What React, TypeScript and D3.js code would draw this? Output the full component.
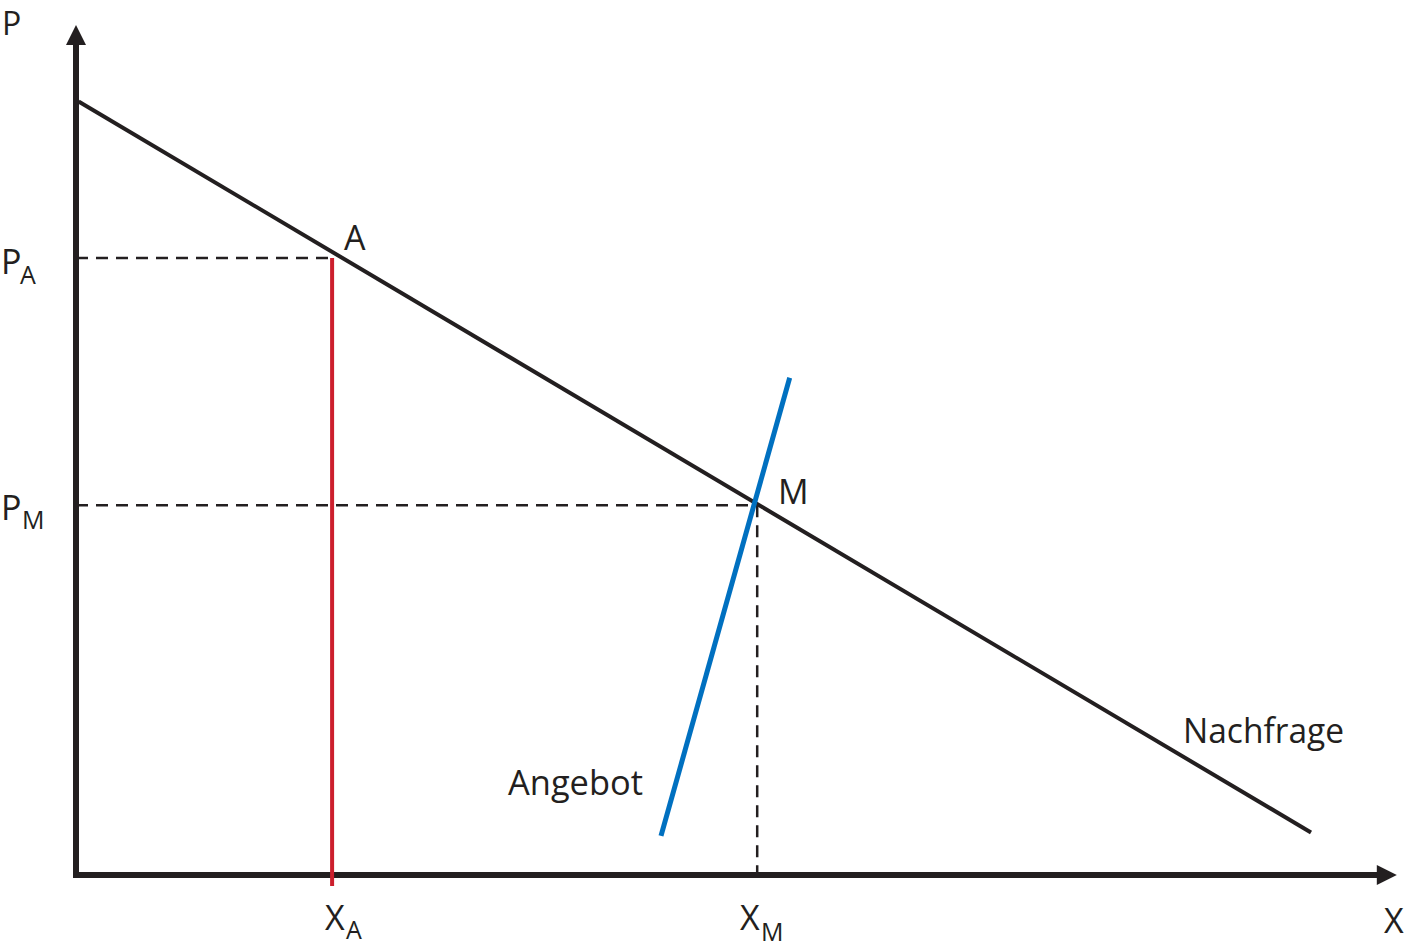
import React from "react";
import * as d3 from "d3";

// Data (arbitrary units: x 0..100, y 0..100)
const demandLine = [
  { x: 0.2, y: 91 },
  { x: 95, y: 5 },
];
const supplyLine = [
  { x: 45, y: 4.6 },
  { x: 54.9, y: 58.5 },
];
const pointA = { x: 19.7, y: 72.6 };
const pointM = { x: 52.4, y: 43.5 };
const axisXEnd = 101.6;
const axisYEnd = 100;
const redBottom = -1.3;
const dashBottom = -0.7;

const W = 1406;
const H = 949;
const xScale = d3.scaleLinear().domain([0, 100]).range([76, 1376]);
const yScale = d3.scaleLinear().domain([0, 100]).range([875, 25]);

const INK = "#231f20";
const RED = "#cc1f2d";
const BLUE = "#0070c0";
const FONT = "'Open Sans', sans-serif";

const line = d3
  .line<{ x: number; y: number }>()
  .x((d) => xScale(d.x))
  .y((d) => yScale(d.y));

export default function App() {
  const x0 = xScale(0);
  const y0 = yScale(0);
  const xEnd = xScale(axisXEnd);
  const yEnd = yScale(axisYEnd);
  const ax = xScale(pointA.x);
  const ay = yScale(pointA.y);
  const mx = xScale(pointM.x);
  const my = yScale(pointM.y);
  const dash = "12 8";
  return (
    <svg
      width={W}
      height={H}
      style={{ position: "absolute", left: 0, top: 0, background: "#fff" }}
      fontFamily={FONT}
    >
      {/* dashed guides */}
      <line x1={x0} y1={ay} x2={ax} y2={ay} stroke={INK} strokeWidth={2.5} strokeDasharray={dash} />
      <line x1={x0} y1={my} x2={mx} y2={my} stroke={INK} strokeWidth={2.5} strokeDasharray={dash} />
      <line x1={mx} y1={my} x2={mx} y2={yScale(dashBottom)} stroke={INK} strokeWidth={2.5} strokeDasharray={dash} />

      {/* axes */}
      <line x1={x0} y1={y0 + 3} x2={x0} y2={yEnd + 18} stroke={INK} strokeWidth={6} />
      <path d={`M${x0},${yEnd} L${x0 - 10},${yEnd + 20} L${x0 + 10},${yEnd + 20} Z`} fill={INK} />
      <line x1={x0 - 3} y1={y0} x2={xEnd - 18} y2={y0} stroke={INK} strokeWidth={6} />
      <path d={`M${xEnd},${y0} L${xEnd - 20},${y0 - 10} L${xEnd - 20},${y0 + 10} Z`} fill={INK} />

      {/* red vertical at A */}
      <line x1={ax} y1={ay} x2={ax} y2={yScale(redBottom)} stroke={RED} strokeWidth={4} />

      {/* demand */}
      <path d={line(demandLine) || ""} stroke={INK} strokeWidth={4} fill="none" />
      {/* supply */}
      <path d={line(supplyLine) || ""} stroke={BLUE} strokeWidth={5} fill="none" />

      {/* labels */}
      <g fill={INK} fontSize={34}>
        <text x={2} y={35} fontSize={32}>P</text>
        <text x={1384} y={933}>X</text>

        <text x={1} y={274}>P</text>
        <text x={20} y={284} fontSize={25}>A</text>

        <text x={1} y={520}>P</text>
        <text x={22} y={529} fontSize={25}>M</text>

        <text x={325} y={930}>X</text>
        <text x={346} y={939} fontSize={25}>A</text>

        <text x={740} y={930}>X</text>
        <text x={761} y={941} fontSize={25}>M</text>

        <text x={344} y={250}>A</text>
        <text x={778} y={504}>M</text>

        <text x={1183} y={743} textLength={161} lengthAdjust="spacingAndGlyphs">Nachfrage</text>
        <text x={508} y={795} textLength={135} lengthAdjust="spacingAndGlyphs">Angebot</text>
      </g>
    </svg>
  );
}
